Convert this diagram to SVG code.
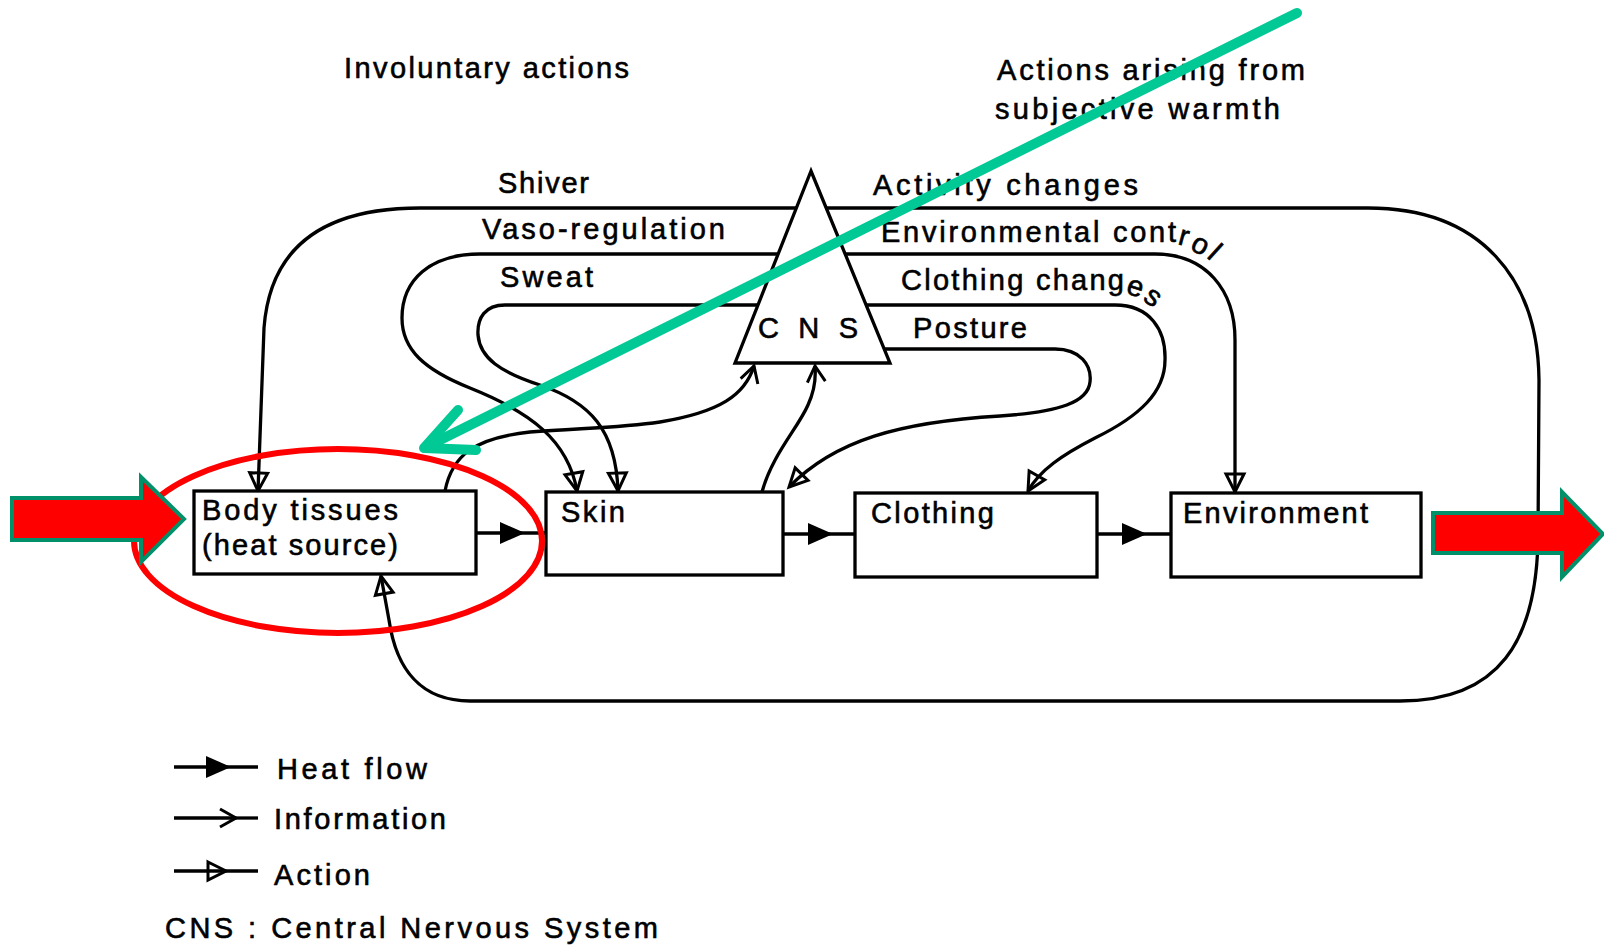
<svg xmlns="http://www.w3.org/2000/svg" width="1604" height="946" viewBox="0 0 1604 946">
  <style>
    .ln { fill: none; stroke: #000; stroke-width: 3.3; stroke-linecap: butt; stroke-linejoin: round; }
    .box { fill: #fff; stroke: #000; stroke-width: 3.3; }
    .t { font-family: "Liberation Sans", Arial, sans-serif; font-size: 29px; fill: #000; stroke: #000; stroke-width: 0.6; }
    .act { marker-end: url(#act); }
    .inf { marker-end: url(#inf); }
    .heat { marker-mid: url(#heat); }
  </style>
  <defs>
    <!-- action: open triangle, stem runs through it -->
    <marker id="act" markerUnits="userSpaceOnUse" orient="auto" refX="0" refY="0" markerWidth="40" markerHeight="40" overflow="visible">
      <path d="M-18,-9 L0,0 L-18,9 Z" fill="none" stroke="#000" stroke-width="3" stroke-linejoin="miter"/>
    </marker>
    <!-- information: open chevron -->
    <marker id="inf" markerUnits="userSpaceOnUse" orient="auto" refX="0" refY="0" markerWidth="40" markerHeight="40" overflow="visible">
      <path d="M-16,-9 L0,0 L-16,9" fill="none" stroke="#000" stroke-width="3"/>
    </marker>
    <!-- heat flow: solid triangle placed mid-line -->
    <marker id="heat" markerUnits="userSpaceOnUse" orient="auto" refX="0" refY="0" markerWidth="40" markerHeight="40" overflow="visible">
      <path d="M-12,-11 L13,0 L-12,11 Z" fill="#000"/>
    </marker>
  </defs>

  <rect width="1604" height="946" fill="#fff"/>

  <!-- headings -->
  <text class="t" x="344" y="78" textLength="285" lengthAdjust="spacing">Involuntary actions</text>
  <text class="t" x="997" y="80" textLength="308" lengthAdjust="spacing">Actions arising from</text>
  <text class="t" x="995" y="119" textLength="285" lengthAdjust="spacing">subjective warmth</text>

  <g id="connectors">
    <!-- Shiver: CNS to body tissues (top) -->
    <path class="ln act" d="M 800 208 L 420 208 C 322 208 270 248 264 328 L 258 491"/>
    <!-- Activity changes: CNS round the outside to body tissues (bottom) -->
    <path class="ln act" d="M 820 208 L 1368 208 C 1482 208 1538 280 1539 380 L 1538 540 C 1536 640 1500 701 1400 701 L 470 701 C 420 701 396 668 389 620 L 381 576"/>
    <!-- Vaso-regulation: CNS to skin -->
    <path class="ln act" d="M 780 254 L 480 254 C 430 254 402 280 402 318 C 402 350 425 370 470 388 C 530 412 568 440 577 491"/>
    <!-- Sweat: CNS to skin -->
    <path class="ln act" d="M 780 305 L 505 305 C 485 305 477 318 478 335 C 480 358 500 372 540 385 C 590 402 616 430 618 491"/>
    <!-- Environmental control: CNS to environment -->
    <path class="ln act" d="M 840 254 L 1155 254 C 1206 254 1235 290 1235 340 L 1235 492"/>
    <!-- Clothing changes: CNS to clothing -->
    <path class="ln act" d="M 850 305 L 1115 305 C 1150 305 1166 330 1165 360 C 1165 392 1140 416 1095 438 C 1062 455 1040 470 1028 491"/>
    <!-- Posture: CNS to skin -->
    <path class="ln act" d="M 870 349 L 1055 349 C 1080 349 1092 365 1090 382 C 1088 402 1060 412 1000 416 C 900 422 835 440 789 487"/>
    <!-- Information: body tissues and skin to CNS -->
    <path class="ln inf" d="M 445 491 C 452 455 475 438 530 432 C 580 428 620 428 660 422 C 720 412 745 395 754 366"/>
    <path class="ln inf" d="M 762 492 C 772 455 798 428 808 405 C 815 390 816 378 815 366"/>
    <!-- Heat flow along the chain -->
    <path class="ln heat" d="M 476 533 L 512 533 L 546 533"/>
    <path class="ln heat" d="M 783 534 L 820 534 L 855 534"/>
    <path class="ln heat" d="M 1097 534 L 1134 534 L 1171 534"/>
  </g>

  <!-- loop labels -->
  <text class="t" x="498" y="193" textLength="91" lengthAdjust="spacing">Shiver</text>
  <text class="t" x="482" y="239" textLength="243" lengthAdjust="spacing">Vaso-regulation</text>
  <text class="t" x="500" y="287" textLength="93" lengthAdjust="spacing">Sweat</text>
  <text class="t" x="873" y="195" textLength="265" lengthAdjust="spacing">Activity changes</text>
  <text class="t" x="881" y="242" textLength="295" lengthAdjust="spacing">Environmental cont</text>
  <text class="t" transform="translate(1177,244) rotate(15)">r</text>
  <text class="t" transform="translate(1189,249) rotate(28)">o</text>
  <text class="t" transform="translate(1206,257) rotate(42)">l</text>
  <text class="t" x="901" y="290" textLength="223" lengthAdjust="spacing">Clothing chang</text>
  <text class="t" transform="translate(1125,293) rotate(18)">e</text>
  <text class="t" transform="translate(1142,300) rotate(35)">s</text>
  <text class="t" x="913" y="338" textLength="114" lengthAdjust="spacing">Posture</text>

  <g id="node-cns">
    <polygon points="811,171 735,363 890,363" fill="#fff" stroke="#000" stroke-width="3.3" stroke-linejoin="miter"/>
    <text class="t" x="758" y="338" textLength="100" lengthAdjust="spacing">C N S</text>
  </g>

  <g id="node-body">
    <rect class="box" x="194" y="491" width="282" height="83"/>
    <text class="t" x="202" y="520" textLength="196" lengthAdjust="spacing">Body tissues</text>
    <text class="t" x="202" y="555" textLength="196" lengthAdjust="spacing">(heat source)</text>
  </g>
  <g id="node-skin">
    <rect class="box" x="546" y="492" width="237" height="83"/>
    <text class="t" x="561" y="522" textLength="64" lengthAdjust="spacing">Skin</text>
  </g>
  <g id="node-clothing">
    <rect class="box" x="855" y="493" width="242" height="84"/>
    <text class="t" x="871" y="523" textLength="123" lengthAdjust="spacing">Clothing</text>
  </g>
  <g id="node-environment">
    <rect class="box" x="1171" y="493" width="250" height="84"/>
    <text class="t" x="1183" y="523" textLength="185" lengthAdjust="spacing">Environment</text>
  </g>

  <g id="legend">
    <path class="ln heat" d="M 174 767 L 218 767 L 258 767"/>
    <text class="t" x="277" y="779" textLength="150" lengthAdjust="spacing">Heat flow</text>
    <path class="ln inf" d="M 174 818 L 236 818"/>
    <path class="ln" d="M 236 818 L 258 818"/>
    <text class="t" x="274" y="829" textLength="172" lengthAdjust="spacing">Information</text>
    <path class="ln" d="M 174 871 L 226 871 L 258 871" marker-mid="url(#act)"/>
    <text class="t" x="274" y="885" textLength="96" lengthAdjust="spacing">Action</text>
    <text class="t" x="165" y="938" textLength="493" lengthAdjust="spacing">CNS : Central Nervous System</text>
  </g>

  <g id="highlights">
    <ellipse cx="338" cy="541" rx="204" ry="92" fill="none" stroke="#ff0000" stroke-width="6"/>
    <polygon points="12,498 141,498 141,477 184,519 141,562 141,540 12,540" fill="#ff0000" stroke="#00916b" stroke-width="4"/>
    <polygon points="1433,513 1562,513 1562,492 1603,534 1562,577 1562,553 1433,553" fill="#ff0000" stroke="#00916b" stroke-width="4"/>
    <g fill="none" stroke="#00c996" stroke-width="10" stroke-linecap="round" stroke-linejoin="round">
      <path d="M 1297 13 L 426 447"/>
      <path d="M 458 410 L 424 448 L 476 450"/>
    </g>
  </g>
</svg>
